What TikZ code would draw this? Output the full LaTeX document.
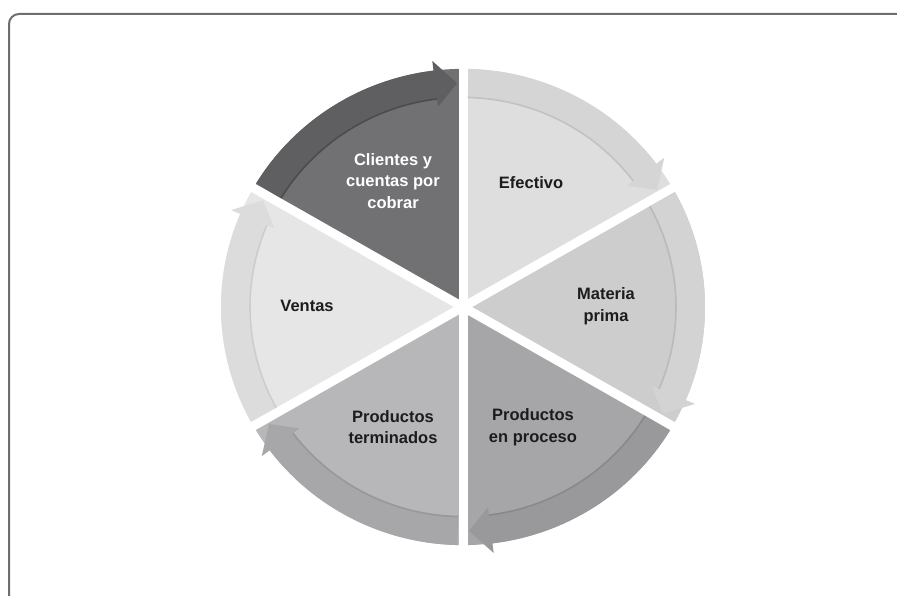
\documentclass[tikz,border=0pt]{standalone}
\usepackage{fontspec}
\setmainfont{Liberation Sans}
\definecolor{frameC}{HTML}{6E6E6E}
\definecolor{cliS}{HTML}{717173}\definecolor{cliB}{HTML}{5F5F61}\definecolor{cliE}{HTML}{4C4C4E}
\definecolor{efeS}{HTML}{DEDEDE}\definecolor{efeB}{HTML}{D5D5D5}\definecolor{efeE}{HTML}{C2C2C2}
\definecolor{matS}{HTML}{CDCDCD}\definecolor{matB}{HTML}{D3D3D3}\definecolor{matE}{HTML}{BABABA}
\definecolor{proS}{HTML}{A6A6A8}\definecolor{proB}{HTML}{99999B}\definecolor{proE}{HTML}{89898B}
\definecolor{terS}{HTML}{B7B7B9}\definecolor{terB}{HTML}{A7A7A9}\definecolor{terE}{HTML}{98989A}
\definecolor{venS}{HTML}{E6E6E6}\definecolor{venB}{HTML}{DCDCDC}\definecolor{venE}{HTML}{CDCDCD}
\definecolor{txtC}{HTML}{1C1C1C}
\newcommand\Rout{242}
\newcommand\Rin{213}
\newcommand\Rmid{227.5}
\newcommand\mysector[2]{%
  \fill[#2] (0,0) -- (#1:\Rout) arc[start angle=#1, end angle=#1-60, radius=\Rout] -- cycle;}
\newcommand\myband[3]{%
  \pgfmathsetmacro\as{#1-1.3}%
  \pgfmathsetmacro\ae{#1-60+1.5}%
  \pgfmathsetmacro\ab{#1-60+7.0}%
  \pgfmathsetmacro\ro{\Rout+10}%
  \pgfmathsetmacro\ri{\Rin-8}%
  \fill[#2] (\as:\Rout) arc[start angle=\as, end angle=\ab, radius=\Rout]
     -- (\ab:\ro) -- (\ae:\Rmid) -- (\ab:\ri) -- (\ab:\Rin)
     arc[start angle=\ab, end angle=\as, radius=\Rin] -- cycle;
  \draw[#3, line width=1.6] (\as:\Rin) arc[start angle=\as, end angle=\ab, radius=\Rin];}
\tikzset{
  gapline/.style={white, line width=9pt},
  lbl/.style={font=\bfseries\fontsize{16.5}{21.5}\selectfont, align=center, text=txtC, inner sep=0pt},
  frameline/.style={draw=frameC, line width=2pt, rounded corners=10pt}
}
\begin{document}
\begin{tikzpicture}[x=1pt, y=1pt]
\useasboundingbox (0,0) rectangle (897,595);
\clip (0,0) rectangle (897,595);
\fill[white] (0,0) rectangle (897,595);
\draw[frameline] (9,-20) |- (930,581);
\begin{scope}[shift={(463,288)}, yscale=0.984]
  \mysector{150}{cliS}
  \mysector{90}{efeS}
  \mysector{30}{matS}
  \mysector{-30}{proS}
  \mysector{-90}{terS}
  \mysector{-150}{venS}
  \foreach \a in {90,30,-30,-90,-150,150}
    \draw[gapline] (0,0) -- (\a:260);
  \myband{150}{cliB}{cliE}
  \myband{90}{efeB}{efeE}
  \myband{30}{matB}{matE}
  \myband{-30}{proB}{proE}
  \myband{-90}{terB}{terE}
  \myband{-150}{venB}{venE}
\end{scope}
\node[lbl, text=white] (cli) at (393,414) {Clientes y\\cuentas por\\cobrar};
\node[lbl] (efe) at (531,412) {Efectivo};
\node[lbl] (mat) at (606,289) {Materia\\prima};
\node[lbl] (ven) at (307,289) {Ventas};
\node[lbl] (ter) at (393,168) {Productos\\terminados};
\node[lbl] (pro) at (533,168) {Productos\\en proceso};
\end{tikzpicture}
\end{document}
